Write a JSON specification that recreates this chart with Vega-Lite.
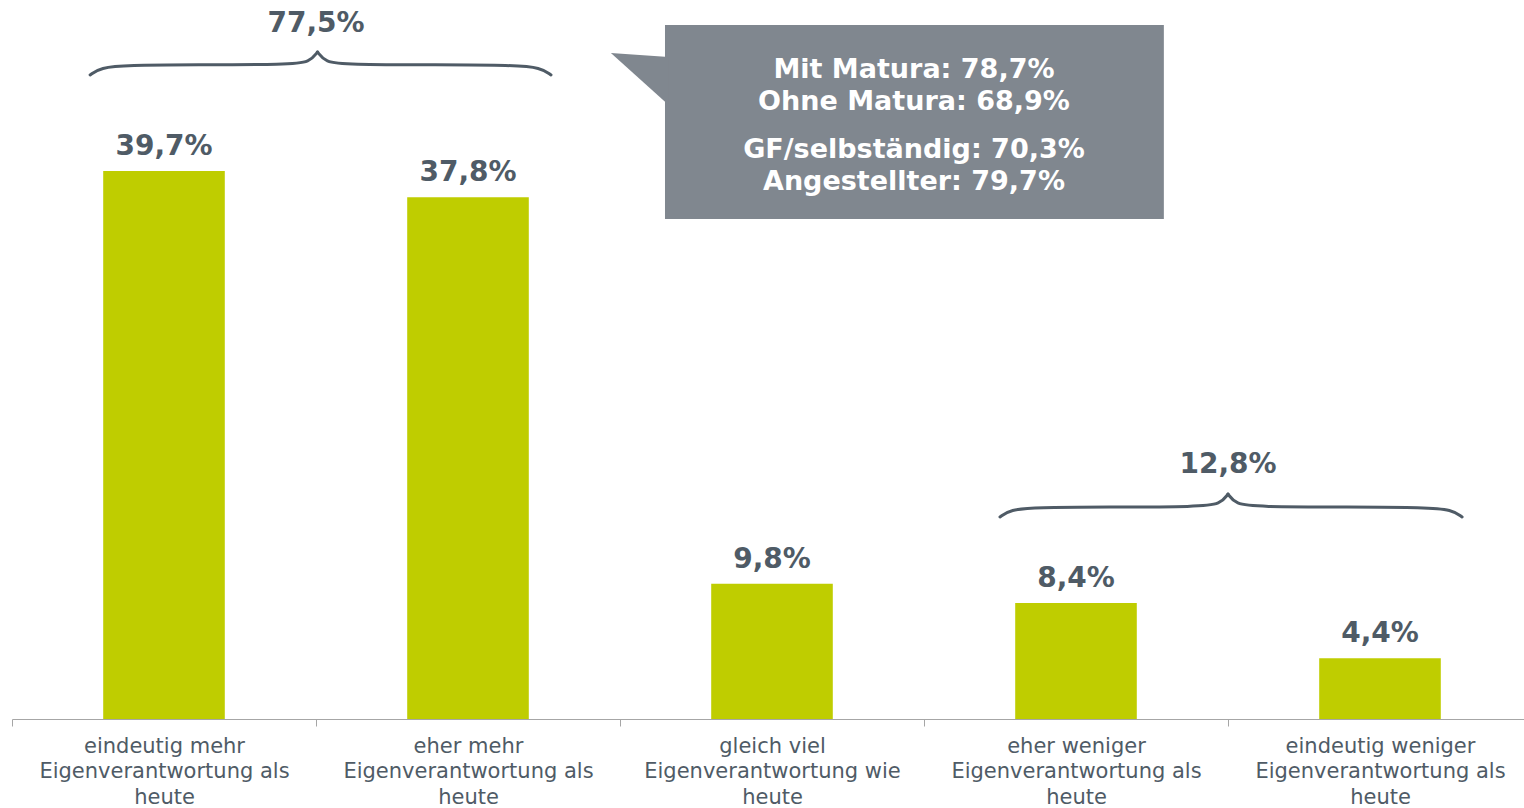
{
  "$schema": "https://vega.github.io/schema/vega-lite/v6.json",
  "width": 1512,
  "height": 719,
  "autosize": {"type": "none"},
  "padding": {"left": 12, "top": 0, "right": 0, "bottom": 89},
  "background": "white",
  "config": {"view": {"stroke": null}},
  "datasets": {
    "bars": [
      {"cat": "eindeutig mehr|Eigenverantwortung als|heute", "value": 39.7, "label": "39,7%"},
      {"cat": "eher mehr|Eigenverantwortung als|heute", "value": 37.8, "label": "37,8%"},
      {"cat": "gleich viel|Eigenverantwortung wie|heute", "value": 9.8, "label": "9,8%"},
      {"cat": "eher weniger|Eigenverantwortung als|heute", "value": 8.4, "label": "8,4%"},
      {"cat": "eindeutig weniger|Eigenverantwortung als|heute", "value": 4.4, "label": "4,4%"}
    ],
    "braces": [
      {"seg": "a1", "bx": 0.257, "by": 46.67},
      {"seg": "a1", "bx": 0.29, "by": 47.2},
      {"seg": "a1", "bx": 0.38, "by": 47.38},
      {"seg": "a1", "bx": 0.6, "by": 47.4},
      {"seg": "a1", "bx": 0.91, "by": 47.42},
      {"seg": "a1", "bx": 0.98, "by": 47.6},
      {"seg": "a1", "bx": 1.005, "by": 48.33},
      {"seg": "a2", "bx": 1.005, "by": 48.33},
      {"seg": "a2", "bx": 1.03, "by": 47.6},
      {"seg": "a2", "bx": 1.1, "by": 47.42},
      {"seg": "a2", "bx": 1.4, "by": 47.4},
      {"seg": "a2", "bx": 1.65, "by": 47.38},
      {"seg": "a2", "bx": 1.74, "by": 47.2},
      {"seg": "a2", "bx": 1.773, "by": 46.67},
      {"seg": "b1", "bx": 3.25, "by": 14.64},
      {"seg": "b1", "bx": 3.283, "by": 15.17},
      {"seg": "b1", "bx": 3.37, "by": 15.34},
      {"seg": "b1", "bx": 3.6, "by": 15.36},
      {"seg": "b1", "bx": 3.905, "by": 15.38},
      {"seg": "b1", "bx": 3.975, "by": 15.56},
      {"seg": "b1", "bx": 4.0, "by": 16.3},
      {"seg": "b2", "bx": 4.0, "by": 16.3},
      {"seg": "b2", "bx": 4.025, "by": 15.56},
      {"seg": "b2", "bx": 4.095, "by": 15.38},
      {"seg": "b2", "bx": 4.4, "by": 15.36},
      {"seg": "b2", "bx": 4.65, "by": 15.34},
      {"seg": "b2", "bx": 4.737, "by": 15.17},
      {"seg": "b2", "bx": 4.77, "by": 14.64}
    ],
    "braceLabels": [
      {"bx": 1.0, "by": 49.78, "text": "77,5%"},
      {"bx": 4.0, "by": 17.83, "text": "12,8%"}
    ],
    "box": [
      {"x1": 2.148, "x2": 3.789, "y1": 50.29, "y2": 36.23}
    ],
    "pointer": [
      {"px": 1.97, "py": 48.26, "py2": 48.26},
      {"px": 2.16, "py": 47.97, "py2": 44.49}
    ],
    "boxText": [
      {"tx": 2.967, "ty": 46.45, "text": "Mit Matura: 78,7%"},
      {"tx": 2.967, "ty": 44.13, "text": "Ohne Matura: 68,9%"},
      {"tx": 2.967, "ty": 40.65, "text": "GF/selbständig: 70,3%"},
      {"tx": 2.967, "ty": 38.33, "text": "Angestellter: 79,7%"}
    ]
  },
  "resolve": {"scale": {"x": "independent"}, "axis": {"x": "independent"}},
  "layer": [
    {
      "data": {"name": "bars"},
      "layer": [
        {
          "mark": {"type": "bar", "color": "#BFCD00", "width": {"band": 0.4}},
          "encoding": {
            "x": {
              "field": "cat", "type": "nominal", "sort": null,
              "scale": {"range": [0, 1520], "paddingInner": 0, "paddingOuter": 0},
              "axis": {
                "title": null, "labelAngle": 0, "tickBand": "extent",
                "domainColor": "#A6A6A6", "tickColor": "#A6A6A6", "tickSize": 7,
                "labelFont": "DejaVu Sans", "labelFontSize": 21, "labelColor": "#4F5B66",
                "labelLineHeight": 25.5, "labelPadding": 9, "labelLimit": 400,
                "labelExpr": "split(datum.label, '|')"
              }
            },
            "y": {
              "field": "value", "type": "quantitative",
              "scale": {"domain": [0, 52.1], "nice": false, "zero": true},
              "axis": null
            }
          }
        },
        {
          "mark": {"type": "text", "font": "DejaVu Sans", "fontWeight": "bold", "fontSize": 28, "color": "#4F5B66", "baseline": "alphabetic", "dy": -16},
          "encoding": {
            "x": {"field": "cat", "type": "nominal", "sort": null},
            "y": {"field": "value", "type": "quantitative"},
            "text": {"field": "label"}
          }
        }
      ]
    },
    {
      "layer": [
        {
          "data": {"name": "box"},
          "mark": {"type": "rect", "color": "#80878F"},
          "encoding": {
            "x": {"field": "x1", "type": "quantitative", "scale": {"domain": [0, 5], "range": [0, 1520], "nice": false, "zero": false}, "axis": null},
            "x2": {"field": "x2"},
            "y": {"field": "y1", "type": "quantitative"},
            "y2": {"field": "y2"}
          }
        },
        {
          "data": {"name": "pointer"},
          "mark": {"type": "area", "color": "#80878F", "opacity": 1},
          "encoding": {
            "x": {"field": "px", "type": "quantitative"},
            "y": {"field": "py", "type": "quantitative"},
            "y2": {"field": "py2"}
          }
        },
        {
          "data": {"name": "boxText"},
          "mark": {"type": "text", "font": "DejaVu Sans", "fontWeight": "bold", "fontSize": 27, "color": "white", "baseline": "alphabetic", "align": "center"},
          "encoding": {
            "x": {"field": "tx", "type": "quantitative"},
            "y": {"field": "ty", "type": "quantitative"},
            "text": {"field": "text"}
          }
        },
        {
          "data": {"name": "braces"},
          "mark": {"type": "line", "color": "#4F5B66", "strokeWidth": 3, "interpolate": "basis", "strokeCap": "round"},
          "encoding": {
            "x": {"field": "bx", "type": "quantitative"},
            "y": {"field": "by", "type": "quantitative"},
            "detail": {"field": "seg"}
          }
        },
        {
          "data": {"name": "braceLabels"},
          "mark": {"type": "text", "font": "DejaVu Sans", "fontWeight": "bold", "fontSize": 28, "color": "#4F5B66", "baseline": "alphabetic", "align": "center"},
          "encoding": {
            "x": {"field": "bx", "type": "quantitative"},
            "y": {"field": "by", "type": "quantitative"},
            "text": {"field": "text"}
          }
        }
      ]
    }
  ]
}
